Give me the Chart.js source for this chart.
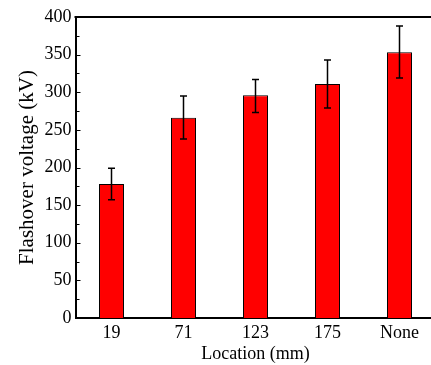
<!DOCTYPE html>
<html>
<head>
<meta charset="utf-8">
<script src="https://cdn.jsdelivr.net/npm/chart.js@4"></script>
<style>
  html, body { margin: 0; padding: 0; background: #fff; overflow: hidden; }
  canvas { display: block; }
</style>
</head>
<body>
<canvas id="myChart" width="440" height="365"></canvas>
<script>
const locations = ["19", "71", "123", "175", "None"];
const voltage = [178, 266, 296, 311, 353];
const errHigh = [199, 295, 317, 343, 388];
const errLow = [157, 238, 273, 279, 319];
const yTicks = [0, 50, 100, 150, 200, 250, 300, 350, 400];

const serif = "'Liberation Serif', 'Times New Roman', serif";

// error bars + inside ticks + top frame
const extras = {
    id: "extras",
    afterDatasetsDraw(chart) {
        const ctx = chart.ctx;
        const y = chart.scales.y;
        const meta = chart.getDatasetMeta(0);
        ctx.save();
        ctx.strokeStyle = "#000";
        ctx.lineWidth = 1.5;
        meta.data.forEach((bar, i) => {
            const yh = y.getPixelForValue(errHigh[i]);
            const yl = y.getPixelForValue(errLow[i]);
            ctx.beginPath();
            ctx.moveTo(bar.x, yh); ctx.lineTo(bar.x, yl);
            ctx.moveTo(bar.x - 3.5, yh); ctx.lineTo(bar.x + 3.5, yh);
            ctx.moveTo(bar.x - 3.5, yl); ctx.lineTo(bar.x + 3.5, yl);
            ctx.stroke();
        });
        ctx.restore();
    },
    afterDraw(chart) {
        const ctx = chart.ctx;
        const y = chart.scales.y;
        const area = chart.chartArea;
        ctx.save();
        ctx.strokeStyle = "#000";
        ctx.lineWidth = 1;
        for (let v = 0; v <= 400; v += 25) {
            const py = Math.round(y.getPixelForValue(v)) + 0.5;
            const len = v % 50 === 0 ? 5 : 4;
            ctx.beginPath();
            ctx.moveTo(area.left, py);
            ctx.lineTo(area.left + len, py);
            ctx.stroke();
        }
        ctx.lineWidth = 2;
        ctx.beginPath();
        ctx.moveTo(area.left - 1, area.top);
        ctx.lineTo(chart.width, area.top);
        ctx.stroke();
        ctx.restore();
    }
};

new Chart(document.getElementById("myChart").getContext("2d"), {
    type: "bar",
    data: {
        labels: locations,
        datasets: [{
            data: voltage,
            backgroundColor: "#ff0000",
            borderColor: "#000",
            borderWidth: 1,
            categoryPercentage: 1,
            barPercentage: 0.347
        }]
    },
    options: {
        responsive: false,
        animation: false,
        layout: { padding: { top: 17, right: 4.5, left: 0, bottom: 0 } },
        plugins: { legend: { display: false }, tooltip: { enabled: false } },
        scales: {
            x: {
                grid: { display: false, drawTicks: false },
                border: { display: true, color: "#000", width: 2 },
                ticks: { color: "#000", font: { family: serif, size: 18 }, padding: 4, maxRotation: 0 },
                title: {
                    display: true, text: "Location (mm)", color: "#000",
                    font: { family: serif, size: 18 }, padding: { top: 0, bottom: 0 }
                },
                afterFit(scale) { scale.height = 47; }
            },
            y: {
                min: 0, max: 400,
                afterBuildTicks(scale) { scale.ticks = yTicks.map(v => ({ value: v })); },
                grid: { display: false, drawTicks: false },
                border: { display: true, color: "#000", width: 2 },
                ticks: { color: "#000", font: { family: serif, size: 18 }, padding: 4 },
                title: {
                    display: true, text: "Flashover voltage (kV)", color: "#000",
                    font: { family: serif, size: 21 }, padding: { top: 15, bottom: 0 }
                },
                afterFit(scale) { scale.width = 75.5; }
            }
        }
    },
    plugins: [extras]
});
</script>
</body>
</html>
